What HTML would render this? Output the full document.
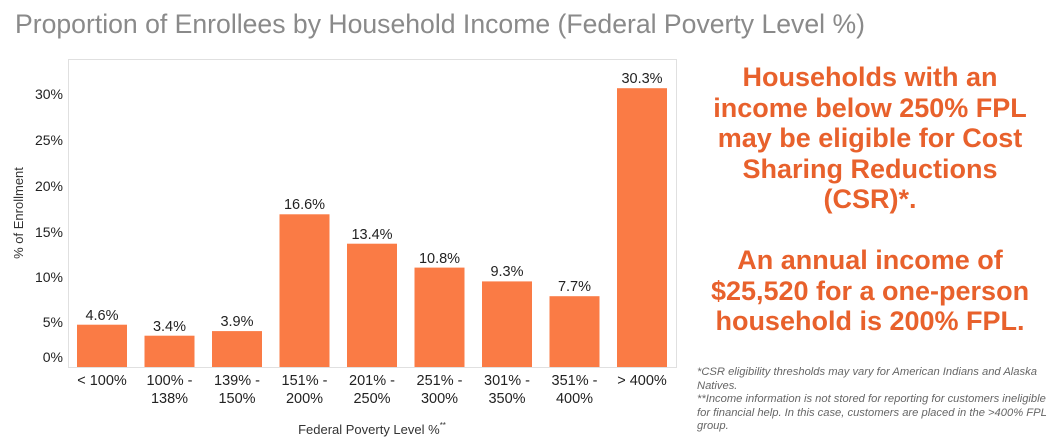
<!DOCTYPE html>
<html><head><style>
body{margin:0;width:1061px;height:444px;background:#fff;overflow:hidden;font-family:"Liberation Sans",Arial,sans-serif;position:relative}
.t{position:absolute;left:15px;top:9px;font-size:26.6px;color:#8a8a8a;white-space:nowrap}
.r{position:absolute;left:670px;width:400px;top:62px;text-align:center;color:#e8612c;font-weight:bold;font-size:27px;line-height:30.5px;white-space:nowrap}
.n{position:absolute;left:697px;top:366px;width:364px;font-size:11.2px;font-style:italic;color:#666;line-height:13.5px;white-space:nowrap}
</style></head><body>
<div class="t">Proportion of Enrollees by Household Income (Federal Poverty Level %)</div>
<svg width="1061" height="444" style="position:absolute;left:0;top:0" font-family="Liberation Sans, Arial, sans-serif">
<rect x="68.5" y="59.5" width="608" height="308" fill="none" stroke="#e0e0e0"/>
<g font-size="14" fill="#222" text-anchor="end">
<text x="63" y="99">30%</text><text x="63" y="145">25%</text><text x="63" y="191">20%</text><text x="63" y="237">15%</text><text x="63" y="282">10%</text><text x="63" y="327">5%</text><text x="63" y="362">0%</text>
</g>
<text transform="translate(23,213) rotate(-90)" font-size="13" fill="#333" text-anchor="middle">% of Enrollment</text>
<g fill="#fa7b45">
<rect x="77" y="324.7" width="50" height="42.3"/>
<rect x="144.5" y="335.7" width="50" height="31.3"/>
<rect x="212" y="331.1" width="50" height="35.9"/>
<rect x="279.5" y="214.3" width="50" height="152.7"/>
<rect x="347" y="243.7" width="50" height="123.3"/>
<rect x="414.5" y="267.6" width="50" height="99.4"/>
<rect x="482" y="281.4" width="50" height="85.6"/>
<rect x="549.5" y="296.2" width="50" height="70.8"/>
<rect x="617" y="88.2" width="50" height="278.8"/>
</g>
<g font-size="14.5" fill="#222" text-anchor="middle">
<text x="102" y="320">4.6%</text><text x="169.5" y="331">3.4%</text><text x="237" y="326">3.9%</text><text x="304.5" y="209">16.6%</text><text x="372" y="239">13.4%</text><text x="439.5" y="263">10.8%</text><text x="507" y="276">9.3%</text><text x="574.5" y="291">7.7%</text><text x="642" y="83">30.3%</text>
<text x="102" y="385">&lt; 100%</text>
<text x="169.5" y="385">100% -</text><text x="169.5" y="403">138%</text>
<text x="237" y="385">139% -</text><text x="237" y="403">150%</text>
<text x="304.5" y="385">151% -</text><text x="304.5" y="403">200%</text>
<text x="372" y="385">201% -</text><text x="372" y="403">250%</text>
<text x="439.5" y="385">251% -</text><text x="439.5" y="403">300%</text>
<text x="507" y="385">301% -</text><text x="507" y="403">350%</text>
<text x="574.5" y="385">351% -</text><text x="574.5" y="403">400%</text>
<text x="642" y="385">&gt; 400%</text>
</g>
<text x="372" y="434" font-size="13" fill="#333" text-anchor="middle">Federal Poverty Level %<tspan font-size="8" dy="-6">**</tspan></text>
</svg>
<div class="r">Households with an<br>income below 250% FPL<br>may be eligible for Cost<br>Sharing Reductions<br>(CSR)*.<br><br>An annual income of<br>$25,520 for a one-person<br>household is 200% FPL.</div>
<div class="n">*CSR eligibility thresholds may vary for American Indians and Alaska<br>Natives.<br>**Income information is not stored for reporting for customers ineligible<br>for financial help. In this case, customers are placed in the &gt;400% FPL<br>group.</div>
</body></html>
